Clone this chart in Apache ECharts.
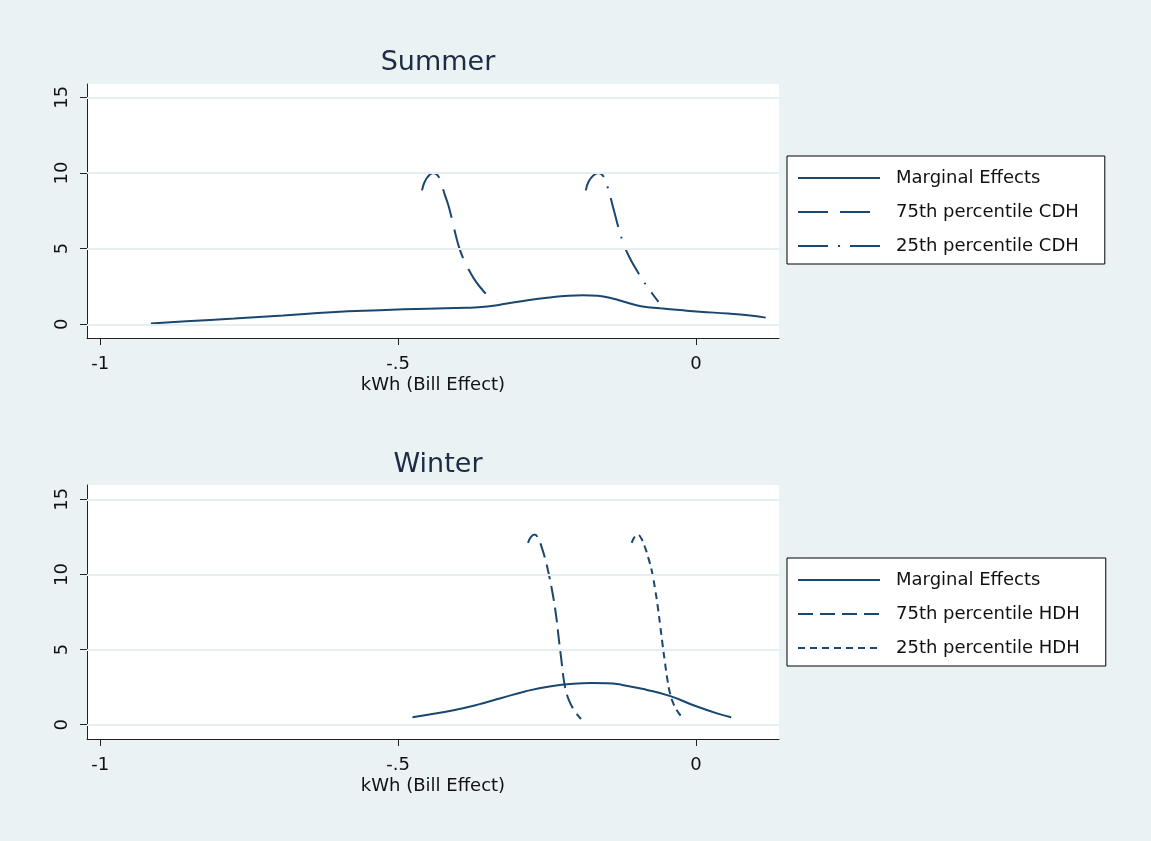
<!DOCTYPE html>
<html>
<head>
<meta charset="utf-8">
<script src="https://cdn.jsdelivr.net/npm/echarts@6/dist/echarts.min.js"></script>
<style>
  html, body { margin: 0; padding: 0; background: #eaf2f3; }
  #chart { width: 1151px; height: 841px; }
</style>
</head>
<body>
<div id="chart"></div>
<script>
// Axis ticks shared by both panels
const xTickValues = [-1, -0.5, 0];
const xTickLabels = ['-1', '-.5', '0'];
const yTickValues = [0, 5, 10, 15];
const yTickLabels = ['0', '5', '10', '15'];

const panelTitles = ['Summer', 'Winter'];
const xAxisTitle = 'kWh (Bill Effect)';

// Summer: density of marginal effects and the effect at CDH percentiles
const summerNames = ['Marginal Effects', '75th percentile CDH', '25th percentile CDH'];
const summerME = [
  [-0.915, 0.05], [-0.856, 0.20], [-0.775, 0.38], [-0.693, 0.58], [-0.612, 0.80],
  [-0.531, 0.93], [-0.450, 1.03], [-0.385, 1.09], [-0.350, 1.18], [-0.320, 1.35],
  [-0.287, 1.56], [-0.250, 1.75], [-0.214, 1.89], [-0.190, 1.92], [-0.165, 1.88],
  [-0.140, 1.70], [-0.115, 1.42], [-0.090, 1.18], [-0.060, 1.06], [-0.027, 0.94],
  [0.006, 0.83], [0.054, 0.71], [0.087, 0.60], [0.117, 0.44]
];
const summerP75 = [
  [-0.460, 8.85], [-0.455, 9.45], [-0.448, 9.85], [-0.441, 10.00], [-0.434, 9.85],
  [-0.428, 9.35], [-0.422, 8.60], [-0.416, 7.90], [-0.410, 7.00], [-0.404, 6.00],
  [-0.397, 5.00], [-0.389, 4.20], [-0.380, 3.50], [-0.370, 2.85], [-0.358, 2.25],
  [-0.346, 1.74]
];
const summerP25 = [
  [-0.185, 8.85], [-0.180, 9.45], [-0.172, 9.85], [-0.164, 10.00], [-0.157, 9.85],
  [-0.151, 9.35], [-0.145, 8.60], [-0.139, 7.70], [-0.133, 6.80], [-0.127, 5.95],
  [-0.120, 5.15], [-0.112, 4.45], [-0.103, 3.80], [-0.093, 3.15], [-0.083, 2.55],
  [-0.073, 2.00], [-0.063, 1.48]
];

// Winter: density of marginal effects and the effect at HDH percentiles
const winterNames = ['Marginal Effects', '75th percentile HDH', '25th percentile HDH'];
const winterME = [
  [-0.476, 0.49], [-0.450, 0.66], [-0.409, 0.95], [-0.368, 1.32], [-0.328, 1.76],
  [-0.287, 2.21], [-0.246, 2.55], [-0.206, 2.73], [-0.175, 2.77], [-0.150, 2.76],
  [-0.124, 2.65], [-0.084, 2.33], [-0.043, 1.90], [-0.002, 1.26], [0.038, 0.72],
  [0.059, 0.50]
];
const winterP75 = [
  [-0.282, 12.10], [-0.277, 12.50], [-0.271, 12.65], [-0.265, 12.40], [-0.259, 11.80],
  [-0.253, 11.00], [-0.247, 10.00], [-0.241, 8.80], [-0.235, 7.30], [-0.230, 5.60],
  [-0.226, 4.30], [-0.222, 3.00], [-0.218, 2.20], [-0.213, 1.60], [-0.206, 1.05],
  [-0.199, 0.65], [-0.193, 0.38]
];
const winterP25 = [
  [-0.108, 12.10], [-0.103, 12.50], [-0.098, 12.65], [-0.092, 12.40], [-0.086, 11.85],
  [-0.080, 11.10], [-0.074, 10.20], [-0.069, 9.10], [-0.064, 7.80], [-0.060, 6.55],
  [-0.056, 5.30], [-0.052, 4.10], [-0.048, 3.00], [-0.044, 2.15], [-0.039, 1.50],
  [-0.032, 0.95], [-0.026, 0.62], [-0.020, 0.40]
];

const FONT = 'DejaVu Sans';
const NAVY = '#1a476f';
const BG = '#eaf2f3';
const GRID_LINE = '#e6eef0';
const TEXT = '#111111';

const panels = [
  { top: 84, height: 254, yMin: -0.907, yMax: 15.88, titleTop: 44, legendTop: 156 },
  { top: 485, height: 254, yMin: -0.95, yMax: 15.95, titleTop: 446, legendTop: 558 }
];
const X_MIN = -1.0223, X_MAX = 0.1393;
const GRID_LEFT = 87, GRID_WIDTH = 692;

function xAxisFor(i) {
  return {
    type: 'value', gridIndex: i, min: X_MIN, max: X_MAX,
    name: xAxisTitle, nameLocation: 'middle', nameGap: 38,
    nameTextStyle: { fontFamily: FONT, fontSize: 18, color: TEXT },
    axisLine: { onZero: false, lineStyle: { color: '#222', width: 1 } },
    axisTick: { show: true, length: 7, customValues: xTickValues, lineStyle: { color: '#222' } },
    axisLabel: {
      customValues: xTickValues, margin: 17,
      fontFamily: FONT, fontSize: 18, color: TEXT,
      formatter: v => xTickLabels[xTickValues.indexOf(v)] ?? ''
    },
    splitLine: { show: false }
  };
}
function yAxisFor(i) {
  const p = panels[i];
  return {
    type: 'value', gridIndex: i, min: p.yMin, max: p.yMax,
    axisLine: { show: true, onZero: false, lineStyle: { color: '#222', width: 1 } },
    axisTick: { show: true, length: 7, customValues: yTickValues, lineStyle: { color: '#222' } },
    axisLabel: {
      customValues: yTickValues, rotate: 90, margin: 16,
      fontFamily: FONT, fontSize: 18, color: TEXT,
      formatter: v => yTickLabels[yTickValues.indexOf(v)] ?? ''
    },
    splitLine: { show: false }
  };
}

// Horizontal reference lines at the labelled y ticks
function gridLines(i) {
  return {
    type: 'line', name: '', xAxisIndex: i, yAxisIndex: i, data: [], z: 1,
    markLine: {
      silent: true, symbol: ['none', 'none'], animation: false,
      label: { show: false },
      lineStyle: { color: GRID_LINE, width: 2, type: 'solid' },
      data: yTickValues.map(v => ({ yAxis: v }))
    }
  };
}

function curve(i, name, data, dash) {
  return {
    type: 'line', name, xAxisIndex: i, yAxisIndex: i, data,
    showSymbol: false, symbol: 'none', smooth: 0.5, z: 3,
    lineStyle: { color: NAVY, width: 2, type: dash },
    itemStyle: { color: NAVY }
  };
}

function legendFor(i, names) {
  return {
    orient: 'vertical', left: 787, top: panels[i].legendTop,
    data: names, selectedMode: false,
    itemWidth: 82, itemHeight: 14, itemGap: 16,
    padding: [13, 26, 9, 10],
    backgroundColor: '#ffffff', borderColor: '#000000', borderWidth: 1, borderRadius: 0,
    // only the line sample is shown, no marker on it
    itemStyle: { color: 'rgba(0,0,0,0)', borderColor: 'rgba(0,0,0,0)', borderWidth: 0, opacity: 0 },
    textStyle: { fontFamily: FONT, fontSize: 18, color: TEXT, padding: [0, 0, 0, 11] }
  };
}

const chart = echarts.init(document.getElementById('chart'), null, { renderer: 'canvas' });
chart.setOption({
  backgroundColor: BG,
  animation: false,
  title: panels.map((p, i) => ({
    text: panelTitles[i], left: GRID_LEFT + GRID_WIDTH / 2, top: p.titleTop, textAlign: 'center',
    textStyle: { fontFamily: FONT, fontSize: 27, fontWeight: 'normal', color: '#1f2a44' }
  })),
  grid: panels.map(p => ({
    left: GRID_LEFT, top: p.top, width: GRID_WIDTH, height: p.height,
    show: true, backgroundColor: '#ffffff', borderWidth: 0, containLabel: false
  })),
  xAxis: [xAxisFor(0), xAxisFor(1)],
  yAxis: [yAxisFor(0), yAxisFor(1)],
  legend: [legendFor(0, summerNames), legendFor(1, winterNames)],
  series: [
    gridLines(0),
    curve(0, summerNames[0], summerME, 'solid'),
    curve(0, summerNames[1], summerP75, [30, 12]),
    curve(0, summerNames[2], summerP25, [30, 10, 2, 10]),
    gridLines(1),
    curve(1, winterNames[0], winterME, 'solid'),
    curve(1, winterNames[1], winterP75, [15, 7]),
    curve(1, winterNames[2], winterP25, [7, 5])
  ]
});
</script>
</body>
</html>
